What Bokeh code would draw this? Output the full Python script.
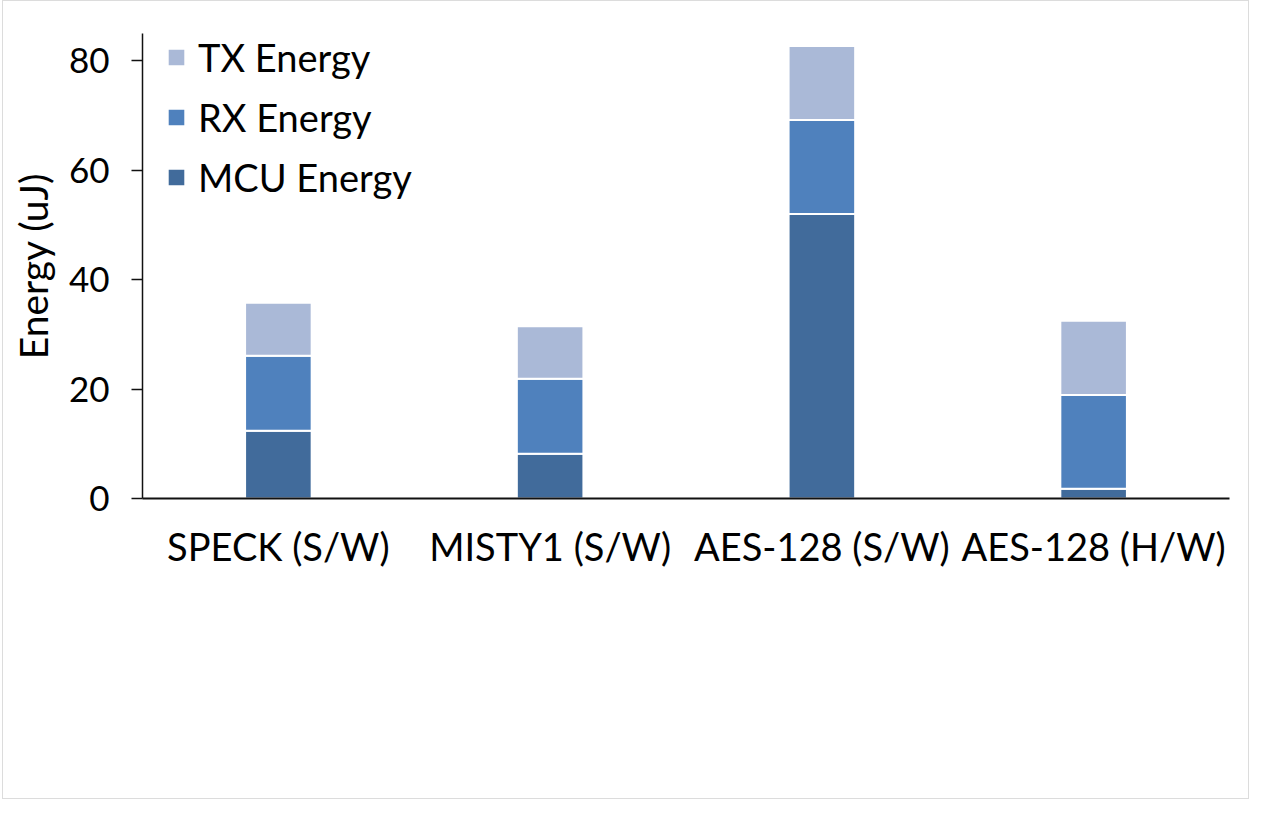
from bokeh.plotting import figure
from bokeh.models import Range1d, FactorRange, Legend, LegendItem, FixedTicker
from bokeh.embed import file_html
from bokeh.resources import INLINE

# Energy per scheme, split by component (uJ)
schemes = ["SPECK (S/W)", "MISTY1 (S/W)", "AES-128 (S/W)", "AES-128 (H/W)"]
mcu_energy = [12.4, 8.2, 52.0, 1.8]
rx_energy = [13.7, 13.7, 17.2, 17.1]
tx_energy = [9.7, 9.6, 13.5, 13.6]
y_ticks = [0, 20, 40, 60, 80]

components = ["MCU Energy", "RX Energy", "TX Energy"]
colors = ["#416b9b", "#4f81bd", "#aab9d7"]

FONT = "Lato"

data = {"scheme": schemes, "MCU Energy": mcu_energy,
        "RX Energy": rx_energy, "TX Energy": tx_energy}

p = figure(x_range=FactorRange(*schemes, range_padding=0),
           y_range=Range1d(0, 85),
           width=1247, height=799,
           output_backend="svg", toolbar_location=None,
           min_border_left=139, min_border_right=21,
           min_border_top=32, min_border_bottom=302)

renderers = p.vbar_stack(components, x="scheme", width=0.245, source=data,
                         fill_color=colors, line_color="white", line_width=2)

p.background_fill_color = "white"
p.border_fill_color = "white"
p.outline_line_color = None
p.grid.grid_line_color = None
p.styles = {"border": "1px solid #dcdcdc", "margin-left": "2px"}

# y axis
p.yaxis.ticker = FixedTicker(ticks=y_ticks)
p.yaxis.axis_label = "Energy (uJ)"
p.yaxis.axis_label_text_font = FONT
p.yaxis.axis_label_text_font_style = "normal"
p.yaxis.axis_label_text_font_size = "39px"
p.yaxis.axis_label_text_color = "black"
p.yaxis.axis_label_standoff = 10
p.yaxis.major_label_text_font = FONT
p.yaxis.major_label_text_font_size = "35px"
p.yaxis.major_label_text_color = "black"
p.yaxis.major_label_standoff = 22
p.yaxis.major_tick_out = 11
p.yaxis.major_tick_in = 0
p.yaxis.minor_tick_line_color = None
p.yaxis.axis_line_color = "#111111"
p.yaxis.axis_line_width = 1.5
p.yaxis.major_tick_line_color = "#111111"
p.yaxis.major_tick_line_width = 1.5

# x axis
p.xaxis.major_label_text_font = FONT
p.xaxis.major_label_text_font_size = "38px"
p.xaxis.major_label_text_color = "black"
p.xaxis.major_label_standoff = 18
p.xaxis.major_tick_line_color = None
p.xaxis.minor_tick_line_color = None
p.xaxis.axis_line_color = "#111111"
p.xaxis.axis_line_width = 2

# legend, top row first
items = [LegendItem(label=name, renderers=[r])
         for name, r in zip(reversed(components), reversed(renderers))]
legend = Legend(items=items, location=(23, 298), orientation="vertical",
                glyph_width=22, glyph_height=22, label_height=46,
                spacing=14, padding=0, margin=0, label_standoff=11,
                label_text_font=FONT, label_text_font_size="38px",
                label_text_color="black",
                border_line_color=None, background_fill_alpha=0)
p.add_layout(legend)

open("out.html", "w").write(file_html(p, INLINE))
